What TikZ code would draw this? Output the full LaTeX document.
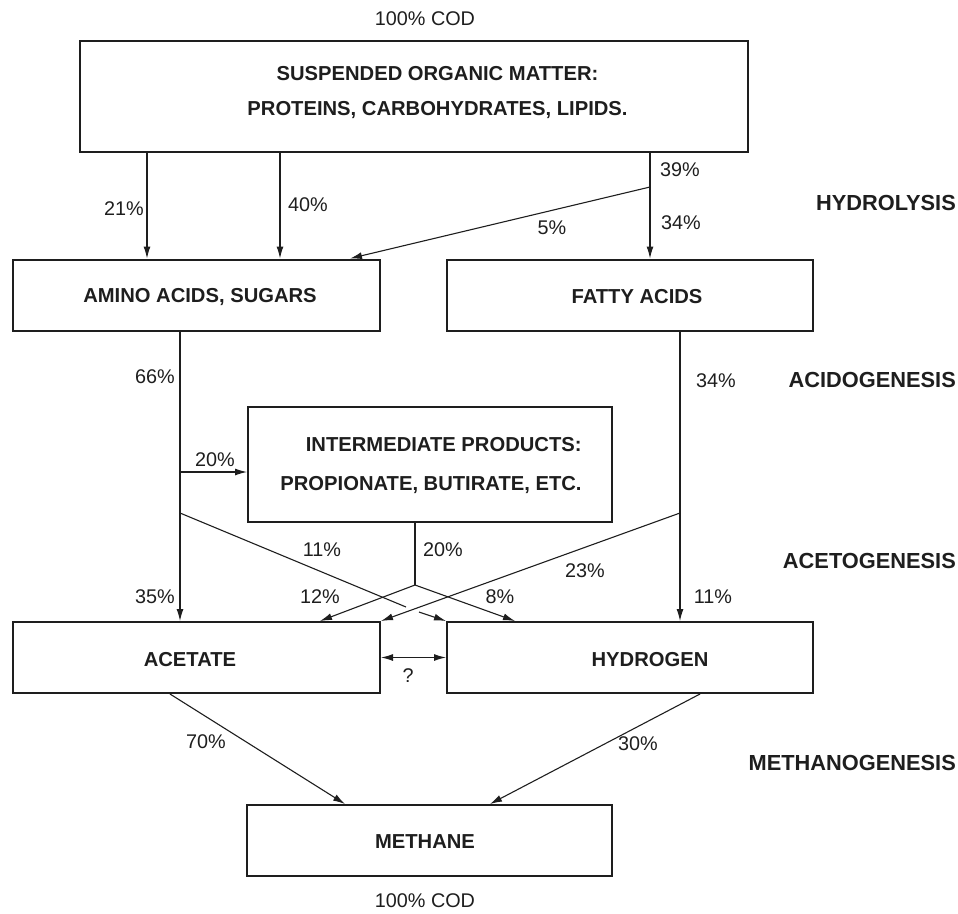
\documentclass[tikz,border=0pt]{standalone}
\usepackage{fontspec}
\setmainfont{Liberation Sans}
\usetikzlibrary{arrows.meta}
\definecolor{ink}{HTML}{1E1E1E}
\tikzset{
  box/.style={draw=ink, line width=2pt, minimum height=71pt, inner sep=0pt},
  boxtext/.style={font=\fontsize{20.2}{24}\selectfont\bfseries, text=ink, inner sep=0pt},
  lbl/.style={font=\fontsize{19.8}{24}\selectfont, text=ink, inner sep=0pt},
  stage/.style={font=\fontsize{21.8}{26}\selectfont\bfseries, text=ink, inner sep=0pt, anchor=east},
  conn/.style={draw=ink, line width=1.1pt},
  arr/.style={conn, -{Latex[length=12pt,width=7pt]}},
  dblarr/.style={conn, {Latex[length=12pt,width=7pt]}-{Latex[length=12pt,width=7pt]}}
}
\begin{document}
\begin{tikzpicture}[x=1pt, y=-1pt]
\useasboundingbox (0,0) rectangle (958,913);

% boxes
\node[box, minimum width=668pt, minimum height=111pt] (top) at (414,96.5) {};
\node[boxtext, align=center] (toptext) at (437.5,93) {SUSPENDED ORGANIC MATTER:\\[11pt]PROTEINS, CARBOHYDRATES, LIPIDS.};
\node[box, minimum width=367pt] (amino) at (196.5,295) {};
\node[boxtext] (aminotext) at (200,297) {AMINO ACIDS, SUGARS};
\node[box, minimum width=366pt] (fatty) at (630,295) {};
\node[boxtext] (fattytext) at (637,297) {FATTY ACIDS};
\node[box, minimum width=364pt, minimum height=115pt] (inter) at (430,464.5) {};
\node[boxtext, align=right] (intertext) at (431,466) {INTERMEDIATE PRODUCTS:\\[15pt]PROPIONATE, BUTIRATE, ETC.};
\node[box, minimum width=367pt] (acet) at (196.5,657.5) {};
\node[boxtext] (acettext) at (190,660) {ACETATE};
\node[box, minimum width=366pt] (hyd) at (630,657.5) {};
\node[boxtext] (hydtext) at (650,660) {HYDROGEN};
\node[box, minimum width=365pt] (meth) at (429.5,840.5) {};
\node[boxtext] (methtext) at (425,842) {METHANE};

% helper coordinates
\coordinate (c21) at (147,0);
\coordinate (c40) at (280,0);
\coordinate (c39) at (650,0);
\coordinate (f5) at (650,187);
\coordinate (c5) at (350,0);
\coordinate (c66) at (180,0);
\coordinate (b20) at (180,472);
\coordinate (b11) at (180,513);
\coordinate (g1) at (406,607);
\coordinate (g2) at (419,612);
\coordinate (c34) at (680,0);
\coordinate (b23) at (680,513);
\coordinate (fk) at (415,585);
\coordinate (c12) at (320,0);
\coordinate (c8) at (515,0);
\coordinate (c70a) at (170,0);
\coordinate (c70b) at (345,0);
\coordinate (c30a) at (700,0);
\coordinate (c30b) at (490,0);

% hydrolysis
\draw[arr] (top.south -| c21) -- (amino.north -| c21);
\draw[arr] (top.south -| c40) -- (amino.north -| c40);
\draw[arr] (top.south -| c39) -- (fatty.north -| c39);
\draw[arr] (f5) -- (amino.north -| c5);

% acidogenesis
\draw[arr] (amino.south -| c66) -- (acet.north -| c66);
\draw[arr] (b20) -- (inter.west |- b20);
\draw[arr] (fatty.south -| c34) -- (hyd.north -| c34);

% acetogenesis
\draw[conn] (b11) -- (g1);
\draw[arr] (g2) -- (hyd.north west);
\draw[arr] (b23) -- (acet.north east);
\draw[conn] (inter.south -| fk) -- (fk);
\draw[arr] (fk) -- (acet.north -| c12);
\draw[arr] (fk) -- (hyd.north -| c8);
\draw[dblarr] (acet.east) -- (hyd.west);

% methanogenesis
\draw[arr] (acet.south -| c70a) -- (meth.north -| c70b);
\draw[arr] (hyd.south -| c30a) -- (meth.north -| c30b);

% labels
\node[lbl] (codtop) at (425,19) {100\% COD};
\node[lbl] (l21) at (124,209) {21\%};
\node[lbl] (l40) at (308,205) {40\%};
\node[lbl] (l39) at (680,170) {39\%};
\node[lbl] (l5) at (552,228) {5\%};
\node[lbl] (l34a) at (681,223) {34\%};
\node[lbl] (l66) at (155,377) {66\%};
\node[lbl] (l34b) at (716,381) {34\%};
\node[lbl] (l20a) at (215,460) {20\%};
\node[lbl] (l11a) at (322,550) {11\%};
\node[lbl] (l20b) at (443,550) {20\%};
\node[lbl] (l23) at (585,571) {23\%};
\node[lbl] (l35) at (155,597) {35\%};
\node[lbl] (l12) at (320,597) {12\%};
\node[lbl] (l8) at (500,597) {8\%};
\node[lbl] (l11b) at (713,597) {11\%};
\node[lbl] (lq) at (408,676) {?};
\node[lbl] (l70) at (206,742) {70\%};
\node[lbl] (l30) at (638,744) {30\%};
\node[lbl] (codbot) at (425,901) {100\% COD};

% stages
\node[stage] (hydro) at (956,203) {HYDROLYSIS};
\node[stage] (acido) at (956,380) {ACIDOGENESIS};
\node[stage] (aceto) at (956,561) {ACETOGENESIS};
\node[stage] (metha) at (956,763) {METHANOGENESIS};
\end{tikzpicture}
\end{document}
